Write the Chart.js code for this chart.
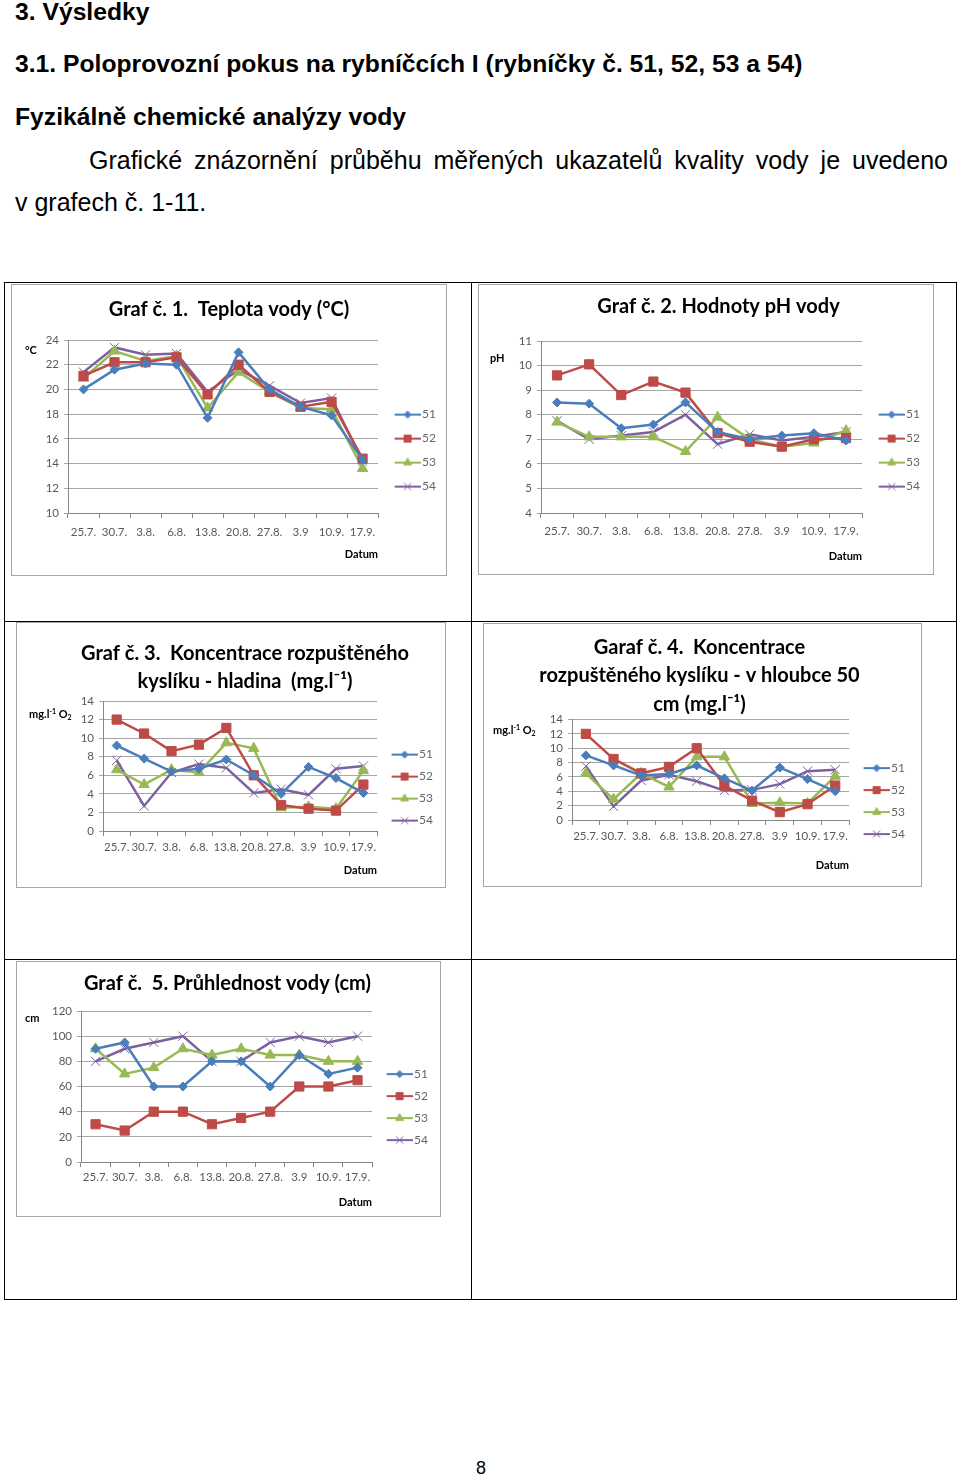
<!DOCTYPE html>
<html>
<head>
<meta charset="utf-8">
<script src="https://cdn.jsdelivr.net/npm/chart.js@4.4.0/dist/chart.umd.min.js"></script>
<style>
  body { margin: 0; width: 960px; height: 1478px; background: #fff; position: relative; overflow: hidden;
         font-family: "Liberation Sans", Arial, sans-serif; color: #000; }
  .t { position: absolute; left: 15px; white-space: nowrap; line-height: 28px; }
  .h { font-weight: bold; font-size: 24.7px; }
  .p { font-size: 25px; }
  .frame { position: absolute; left: 4px; top: 282px; width: 951px; height: 1016px; border: 1px solid #000; }
  .vl { position: absolute; left: 471px; top: 282px; width: 1px; height: 1018px; background: #000; }
  .hl { position: absolute; left: 4px; width: 953px; height: 1px; background: #000; }
  .box { position: absolute; border: 1px solid #a6a6a6; background: #fff; }
  .box canvas { display: block; }
  .yt { position: absolute; font: bold 11px Lato, sans-serif; white-space: nowrap; line-height: 12px; }
  .yt sub { font-size: 7px; vertical-align: -2px; }
  .yt sup { font-size: 7px; vertical-align: 4px; }
</style>
</head>
<body>
<div class="t h" style="top:-2px">3. Výsledky</div>
<div class="t h" style="top:50px">3.1. Poloprovozní pokus na rybníčcích I (rybníčky č. 51, 52, 53 a 54)</div>
<div class="t h" style="top:103px">Fyzikálně chemické analýzy vody</div>
<div class="t p" style="top:146px; width:933px; white-space:normal; text-align:justify; text-align-last:justify; text-indent:74px">Grafické znázornění průběhu měřených ukazatelů kvality vody je uvedeno</div>
<div class="t p" style="top:188px">v grafech č. 1-11.</div>

<div class="frame"></div>
<div class="vl"></div>
<div class="hl" style="top:621px"></div>
<div class="hl" style="top:959px"></div>

<div class="box" style="left:11px; top:284px; width:434px; height:290px"><canvas id="c1"></canvas></div>
<div class="box" style="left:478px; top:284px; width:454px; height:289px"><canvas id="c2"></canvas></div>
<div class="box" style="left:16px; top:622px; width:428px; height:264px"><canvas id="c3"></canvas></div>
<div class="box" style="left:483px; top:623px; width:437px; height:262px"><canvas id="c4"></canvas></div>
<div class="box" style="left:16px; top:961px; width:423px; height:254px"><canvas id="c5"></canvas></div>

<div class="yt" style="left:25px; top:344px">°C</div>
<div class="yt" style="left:490px; top:352px">pH</div>
<div class="yt" style="left:29px; top:705px">mg.l<sup>-1</sup> O<sub>2</sub></div>
<div class="yt" style="left:493px; top:721px">mg.l<sup>-1</sup> O<sub>2</sub></div>
<div class="yt" style="left:25px; top:1012px">cm</div>

<div style="position:absolute; left:476px; top:1458px; font-size:18px">8</div>

<script>
const dates = ['25.7.', '30.7.', '3.8.', '6.8.', '13.8.', '20.8.', '27.8.', '3.9', '10.9.', '17.9.'];
const ponds = ['51', '52', '53', '54'];

// Graf 1 - teplota vody (°C)
const teplota51 = [20, 21.6, 22.1, 22, 17.7, 23, 20, 18.6, 17.9, 14.3];
const teplota52 = [21.1, 22.2, 22.2, 22.6, 19.6, 22, 19.8, 18.6, 19, 14.4];
const teplota53 = [20.9, 23.1, 22.3, 22.7, 18.5, 21.4, 19.8, 18.5, 18.4, 13.6];
const teplota54 = [21.4, 23.4, 22.8, 22.9, 19.8, 21.6, 20.3, 18.9, 19.3, 14.2];

// Graf 2 - pH
const ph51 = [8.5, 8.45, 7.45, 7.6, 8.5, 7.3, 7.0, 7.15, 7.25, 6.95];
const ph52 = [9.6, 10.05, 8.8, 9.35, 8.9, 7.25, 6.9, 6.7, 7.0, 7.05];
const ph53 = [7.7, 7.1, 7.1, 7.1, 6.5, 7.9, 7.0, 6.7, 6.85, 7.35];
const ph54 = [7.75, 7.0, 7.15, 7.3, 8.0, 6.8, 7.2, 6.95, 7.1, 7.3];

// Graf 3 - kyslik, hladina
const o2h51 = [9.2, 7.8, 6.4, 6.7, 7.7, 6.0, 4.0, 6.9, 5.7, 4.1];
const o2h52 = [12, 10.5, 8.6, 9.3, 11.1, 6.0, 2.8, 2.4, 2.2, 5.0];
const o2h53 = [6.6, 5.0, 6.6, 6.3, 9.5, 8.9, 2.5, 2.6, 2.4, 6.5];
const o2h54 = [7.6, 2.7, 6.3, 7.2, 6.8, 4.1, 4.5, 3.9, 6.7, 7.0];

// Graf 4 - kyslik, 50 cm
const o2d51 = [9.0, 7.6, 6.2, 6.4, 7.6, 5.8, 4.1, 7.3, 5.7, 4.0];
const o2d52 = [12, 8.5, 6.5, 7.4, 10, 4.8, 2.7, 1.1, 2.2, 4.8];
const o2d53 = [6.5, 2.9, 6.5, 4.6, 8.8, 8.8, 2.3, 2.4, 2.3, 6.1];
const o2d54 = [7.5, 1.9, 5.5, 6.3, 5.4, 4.1, 4.2, 5.0, 6.8, 7.0];

// Graf 5 - pruhlednost (cm)
const pruh51 = [90, 95, 60, 60, 80, 80, 60, 85, 70, 75];
const pruh52 = [30, 25, 40, 40, 30, 35, 40, 60, 60, 65];
const pruh53 = [90, 70, 75, 90, 85, 90, 85, 85, 80, 80];
const pruh54 = [80, 90, 95, 100, 80, 80, 95, 100, 95, 100];

const colors = ['#4a7ebb', '#be4b48', '#98b954', '#7d60a0'];
const markers = ['rectRot', 'rect', 'triangle', 'crossRot'];
const radii = [4.5, 6.5, 6, 6.5];
const legRadii = [3.5, 5, 4.5, 5];
const tickColor = '#595959';

// legend glyph: short line with the marker, transparent strip on the left
function legendIcon(i) {
  const c = document.createElement('canvas');
  c.width = 35; c.height = 12;
  const g = c.getContext('2d');
  g.strokeStyle = colors[i];
  g.fillStyle = colors[i];
  g.lineWidth = 2;
  g.beginPath(); g.moveTo(9, 6); g.lineTo(35, 6); g.stroke();
  g.lineWidth = 1;
  if (Chart.helpers && Chart.helpers.drawPoint) {
    Chart.helpers.drawPoint(g, { pointStyle: markers[i], radius: legRadii[i], borderWidth: 1, rotation: 0 }, 22, 6);
  }
  return c;
}
const icons = [0, 1, 2, 3].map(legendIcon);

function makeChart(id, o) {
  const canvas = document.getElementById(id);
  canvas.width = o.w; canvas.height = o.h;
  return new Chart(canvas, {
    type: 'line',
    data: {
      labels: dates,
      datasets: o.series.map((vals, i) => ({
        label: ponds[i],
        data: vals,
        borderColor: colors[i],
        backgroundColor: colors[i],
        borderWidth: 2.5,
        pointStyle: markers[i],
        pointRadius: radii[i],
        pointBackgroundColor: colors[i],
        pointBorderColor: colors[i],
        pointBorderWidth: 1,
        tension: 0
      }))
    },
    options: {
      responsive: false,
      animation: false,
      layout: { padding: { left: o.padLeft || 0, right: o.padRight || 0, top: 0, bottom: 0 } },
      plugins: {
        tooltip: { enabled: false },
        title: {
          display: true,
          text: o.title,
          color: '#000',
          font: { family: 'Lato', size: 20, weight: 'bold', lineHeight: o.titleLH || 1.2 },
          padding: { top: o.titleTop, bottom: o.titleBottom }
        },
        legend: {
          position: 'right',
          fullSize: true,
          align: 'center',
          title: { display: true, text: '', font: { size: 1 }, padding: { top: o.legShift, bottom: 0 } },
          labels: {
            usePointStyle: true,
            pointStyleWidth: 26,
            padding: o.legPad,
            color: '#000',
            font: { family: 'Lato', size: 12 },
            generateLabels: (chart) => chart.data.datasets.map((d, i) => ({
              text: d.label, pointStyle: icons[i], datasetIndex: i,
              fillStyle: colors[i], strokeStyle: colors[i], lineWidth: 0, hidden: false
            }))
          }
        }
      },
      scales: {
        x: {
          offset: true,
          grid: { drawOnChartArea: false, drawTicks: true, tickLength: 5, offset: true, color: '#868686' },
          border: { color: '#868686' },
          ticks: { autoSkip: false, maxRotation: 0, padding: o.tickPad, color: tickColor, font: { family: 'Lato', size: 11.5 } },
          title: { display: true, text: 'Datum', align: 'end', color: '#000',
                   font: { family: 'Lato', size: 11, weight: 'bold' }, padding: { top: 0, bottom: o.datumPad } },
          afterFit: (s) => { s.height = o.xh; }
        },
        y: {
          min: o.min, max: o.max,
          ticks: { stepSize: o.step, autoSkip: false, padding: 5, color: tickColor, font: { family: 'Lato', size: 11.5 } },
          grid: { color: '#a6a6a6', tickLength: 4 },
          border: { color: '#868686' },
          afterFit: (s) => { s.width = o.yw; }
        }
      }
    }
  });
}

makeChart('c1', { w: 434, h: 290, title: 'Graf č. 1.  Teplota vody (°C)', titleTop: 13, titleBottom: 18,
  series: [teplota51, teplota52, teplota53, teplota54], min: 10, max: 24, step: 2,
  yw: 56, xh: 62, tickPad: 7, datumPad: 14, padRight: 0, legPad: 12, legShift: 40 });

makeChart('c2', { w: 454, h: 289, title: 'Graf č. 2. Hodnoty pH vody', titleTop: 10, titleBottom: 22,
  series: [ph51, ph52, ph53, ph54], min: 4, max: 11, step: 1,
  padLeft: 28, yw: 34, xh: 61, tickPad: 6, datumPad: 11, padRight: 3, legPad: 12, legShift: 41 });

makeChart('c3', { w: 428, h: 264, title: ['Graf č. 3.  Koncentrace rozpuštěného', 'kyslíku - hladina  (mg.l⁻¹)'],
  titleLH: 1.4, titleTop: 17, titleBottom: 5,
  series: [o2h51, o2h52, o2h53, o2h54], min: 0, max: 14, step: 2,
  padLeft: 30, yw: 56, xh: 56, tickPad: 4, datumPad: 10, padRight: 2, legPad: 10, legShift: 64 });

makeChart('c4', { w: 437, h: 262, title: ['Garaf č. 4.  Koncentrace', 'rozpuštěného kyslíku - v hloubce 50', 'cm (mg.l⁻¹)'],
  titleLH: 1.425, titleTop: 9, titleBottom: 1,
  series: [o2d51, o2d52, o2d53, o2d54], min: 0, max: 14, step: 2,
  yw: 88, xh: 66, tickPad: 4, datumPad: 14, padRight: 6, legPad: 10, legShift: 91 });

makeChart('c5', { w: 423, h: 254, title: 'Graf č.  5. Průhlednost vody (cm)', titleTop: 10, titleBottom: 15,
  series: [pruh51, pruh52, pruh53, pruh54], min: 0, max: 120, step: 20,
  yw: 64, xh: 54, tickPad: 3, datumPad: 7, padRight: 2, legPad: 10, legShift: 35 });
</script>
</body>
</html>
